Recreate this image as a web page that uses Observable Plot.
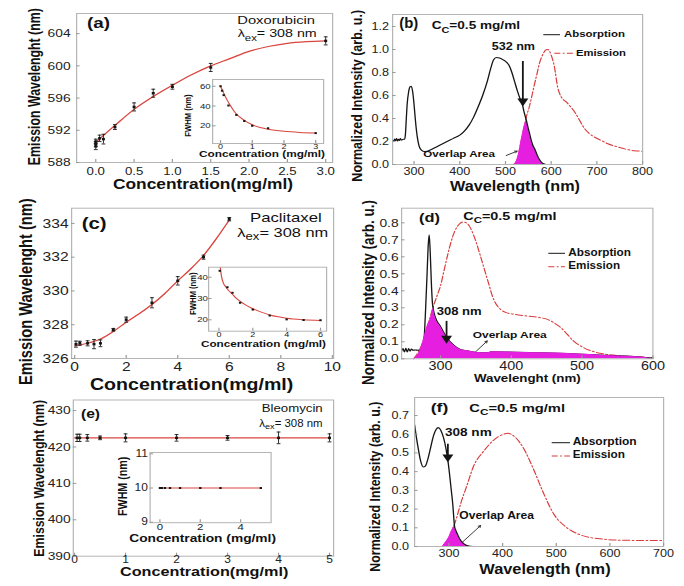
<!DOCTYPE html>
<html><head><meta charset="utf-8">
<script src="https://cdn.jsdelivr.net/npm/d3@7"></script>
<script src="https://cdn.jsdelivr.net/npm/@observablehq/plot@0.6"></script>
<style>
body{margin:0;background:#fff;}
#fig{position:relative;width:570px;height:586px;transform:scale(1.2,1);transform-origin:0 0;}
#fig svg{position:absolute;left:0;top:0;}
</style></head><body><div id="fig"></div>
<script>
// ---------- DATA ----------
// (a) Doxorubicin
const aConc = [0, 0, 0, 0.05, 0.1, 0.25, 0.5, 0.75, 1.0, 1.5, 3.0];
const aWave = [590.0, 590.3, 590.6, 591.0, 590.9, 592.4, 594.9, 596.6, 597.4, 599.8, 603.1];
const aErr  = [0.4, 0.3, 0.3, 0.4, 0.6, 0.3, 0.5, 0.5, 0.3, 0.5, 0.5];
const aFitConc = [0, 0.25, 0.5, 0.75, 1, 1.25, 1.5, 1.75, 2, 2.25, 2.5, 2.75, 3];
const aFitWave = [590.5, 592.6, 594.6, 596.2, 597.6, 598.9, 600.0, 600.9, 601.8, 602.4, 602.8, 603.0, 603.1];
const aInsetConc = [0, 0.05, 0.1, 0.25, 0.5, 0.75, 1, 1.5, 3];
const aInsetFwhm = [60, 55.5, 51, 40.5, 31, 24.8, 20, 17.5, 12.6];
const aInsetFitConc = [0, 0.1, 0.2, 0.3, 0.4, 0.5, 0.75, 1, 1.25, 1.5, 2, 2.5, 3];
const aInsetFitFwhm = [60, 53, 46.5, 41, 36, 32, 25.5, 21, 18.3, 16.5, 14.4, 13.3, 12.8];
// (c) Paclitaxel
const cConc = [0.05, 0.2, 0.5, 0.75, 1, 1.5, 2, 3, 4, 5, 6];
const cWave = [326.85, 326.9, 326.9, 326.85, 326.9, 327.7, 328.3, 329.3, 330.6, 332.0, 334.25];
const cErr  = [0.18, 0.12, 0.15, 0.27, 0.2, 0.08, 0.15, 0.3, 0.25, 0.12, 0.1];
const cFitConc = [0, 0.5, 1, 1.5, 2, 2.5, 3, 3.5, 4, 4.5, 5, 5.5, 6];
const cFitWave = [326.75, 326.9, 327.15, 327.6, 328.15, 328.65, 329.2, 329.85, 330.6, 331.3, 332.1, 333.1, 334.2];
const cInsetConc = [0.05, 0.5, 0.8, 1.25, 2, 3, 4, 5, 6];
const cInsetFwhm = [43, 35.3, 32.7, 28, 24.8, 22, 20.2, 19.9, 19.8];
const cInsetFitConc = [0.08, 0.15, 0.25, 0.4, 0.6, 0.8, 1, 1.25, 1.5, 2, 2.5, 3, 3.5, 4, 5, 6];
const cInsetFitFwhm = [44.7, 40.5, 37.5, 35.5, 33.5, 32, 30.3, 28.7, 27.4, 25.2, 23.6, 22.3, 21.4, 20.7, 20, 19.7];
// (e) Bleomycin
const eConc = [0.05, 0.1, 0.25, 0.5, 1, 2, 3, 4, 5];
const eWave = [422.5, 422.5, 422.5, 422.5, 422.5, 422.5, 422.5, 422.5, 422.5];
const eErr  = [1.0, 1.0, 0.9, 0.5, 1.1, 0.9, 0.65, 1.6, 1.1];
const eFitConc = [0, 5];
const eFitWave = [422.5, 422.5];
const eInsetConc = [0, 0.05, 0.1, 0.25, 0.5, 1, 2, 3, 5];
const eInsetFwhm = [10, 10, 10, 10, 10, 10, 10, 10, 10];
const eInsetFitConc = [0, 5];
const eInsetFitFwhm = [10, 10];

// (b) spectra [wavelength nm, normalized intensity]
const bAbsorption = [[253,0.215],[256,0.205],[258,0.222],[260,0.208],[262,0.225],[264,0.205],[266,0.22],[268,0.21],[270,0.225],[272,0.212],[275,0.218],[279,0.22],[281,0.26],[283,0.4],[285,0.53],[288,0.63],[291,0.675],[294,0.68],[297,0.63],[300,0.52],[303,0.38],[307,0.24],[311,0.16],[316,0.125],[323,0.113],[330,0.118],[340,0.135],[355,0.165],[370,0.195],[385,0.225],[400,0.255],[410,0.29],[420,0.34],[430,0.41],[440,0.5],[450,0.6],[460,0.72],[468,0.84],[474,0.91],[480,0.93],[487,0.925],[495,0.91],[502,0.89],[508,0.86],[514,0.8],[520,0.72],[526,0.64],[532,0.57],[537,0.52],[541,0.45],[546,0.38],[550,0.31],[553,0.265],[557,0.2],[560,0.165],[564,0.135],[568,0.095],[572,0.06],[575,0.04],[579,0.018],[583,0.006],[588,0]];
const bEmission = [[518,0],[523,0.02],[528,0.08],[534,0.2],[541,0.33],[546,0.42],[552,0.5],[558,0.6],[563,0.69],[569,0.79],[574,0.875],[582,0.96],[589,0.997],[593,1.0],[600,0.95],[607,0.85],[614,0.675],[622,0.587],[633,0.544],[643,0.5],[654,0.44],[662,0.385],[673,0.312],[683,0.27],[694,0.24],[709,0.21],[724,0.18],[745,0.153],[767,0.13],[782,0.119],[800,0.116]];
const bOverlap = [[519,0],[523,0.02],[528,0.08],[534,0.2],[541,0.33],[544,0.37],[546,0.38],[550,0.31],[553,0.265],[557,0.2],[560,0.165],[564,0.135],[568,0.095],[572,0.06],[575,0.04],[579,0.018],[583,0.006],[588,0]];
// (d) spectra
const dAbsorption = [[245,0.045],[247,0.06],[249,0.04],[251,0.062],[253,0.04],[255,0.06],[257,0.045],[259,0.058],[261,0.05],[264,0.052],[268,0.05],[272,0.055],[275,0.07],[277,0.13],[279,0.3],[281,0.5],[282.5,0.66],[284,0.73],[285.5,0.62],[287,0.45],[288.5,0.33],[289.6,0.295],[293,0.24],[300,0.19],[309,0.124],[319,0.079],[328,0.055],[338,0.047],[347,0.04],[357,0.035],[368,0.035],[371,0.041],[394,0.04],[441,0.035],[488,0.03],[535,0.02],[583,0.01],[600,0.004]];
const dEmission = [[262,0],[270,0.05],[275,0.1],[280,0.17],[285,0.24],[290,0.31],[295,0.37],[300,0.43],[305,0.52],[310,0.61],[315,0.69],[320,0.75],[326,0.79],[332,0.805],[338,0.795],[347,0.725],[356,0.61],[366,0.47],[375,0.35],[385,0.29],[394,0.27],[404,0.262],[422,0.252],[441,0.242],[451,0.232],[460,0.213],[470,0.183],[479,0.144],[488,0.104],[498,0.075],[517,0.041],[535,0.026],[559,0.016],[583,0.01],[600,0.006]];
const dOverlap = [[262,0],[271.7,0.055],[276,0.114],[281,0.19],[286,0.24],[289.6,0.295],[293,0.24],[300,0.19],[309,0.124],[319,0.079],[328,0.055],[338,0.047],[347,0.04],[357,0.035],[368,0.035],[371,0.041],[394,0.04],[441,0.035],[488,0.03],[535,0.02],[583,0.01],[600,0]];
// (f) spectra
const fAbsorption = [[236,0.65],[239,0.59],[243,0.52],[247,0.46],[252,0.425],[256,0.43],[261,0.47],[266,0.53],[271,0.59],[276,0.625],[280,0.635],[285,0.62],[290,0.58],[294,0.53],[298,0.46],[301,0.39],[304,0.31],[307,0.23],[310.5,0.107],[313,0.085],[316,0.065],[322,0.032],[328,0.014],[337,0.002],[345,0]];
const fEmission = [[288,0],[294,0.023],[300,0.05],[306,0.09],[310.5,0.12],[316,0.17],[322,0.23],[334,0.33],[346,0.43],[365,0.51],[384,0.57],[402,0.6],[410,0.605],[421,0.59],[440,0.52],[458,0.41],[477,0.28],[495,0.175],[520,0.1],[545,0.062],[582,0.041],[626,0.033],[700,0.032]];
const fOverlap = [[288,0],[294,0.023],[300,0.05],[306,0.09],[310.5,0.107],[313,0.085],[316,0.065],[322,0.032],[328,0.014],[337,0.002],[340,0]];

// ---------- STYLE / LAYOUT ----------
const SX = 1.2, W = 570, H = 586;
const FONT = "'Liberation Sans', Arial, Helvetica, sans-serif";
const RED = "#d93b3b", FIT = "#d9463f", MAG = "#e61ee0", INK = "#151515";
const X = d => d[0], Y = d => d[1];
const capSym = {draw(ctx, size) { const r = Math.sqrt(size / Math.PI); ctx.moveTo(-r, 0); ctx.lineTo(r, 0); }};
const zip = (a, b, c) => a.map((v, i) => ({c: v, w: b[i], e: c ? c[i] : 0}));
const pairs = (a, b) => a.map((v, i) => [v, b[i]]);

function scatter(conc, wave, err, fitC, fitW, r = 1.4) {
  const pts = zip(conc, wave, err);
  return [
    Plot.line(pairs(fitC, fitW), {x: X, y: Y, stroke: FIT, strokeWidth: 1.2, curve: "monotone-x"}),
    Plot.ruleX(pts, {x: "c", y1: d => d.w - d.e, y2: d => d.w + d.e, stroke: INK, strokeWidth: 0.8}),
    Plot.dot(pts, {x: "c", y: d => d.w + d.e, symbol: capSym, r: 1.6, stroke: INK, strokeWidth: 0.8}),
    Plot.dot(pts, {x: "c", y: d => d.w - d.e, symbol: capSym, r: 1.6, stroke: INK, strokeWidth: 0.8}),
    Plot.dot(pts, {x: "c", y: "w", symbol: "square", r, fill: INK})
  ];
}
function inset(conc, fw, fitC, fitW) {
  const pts = zip(conc, fw);
  return [
    Plot.line(pairs(fitC, fitW), {x: X, y: Y, stroke: FIT, strokeWidth: 1, curve: "monotone-x"}),
    Plot.dot(pts, {x: "c", y: "w", symbol: "square", r: 1.1, fill: INK})
  ];
}
function arrowHead(a) {
  return [
    Plot.link([a], {x1: d => d.x, y1: d => d.y1, x2: d => d.x, y2: d => d.y2, stroke: INK, strokeWidth: 1.5}),
    Plot.dot([a], {x: d => d.x, y: d => d.y2, symbol: "triangle", r: 3.4, fill: INK, rotate: 180})
  ];
}
function smallArrow(a) {
  return Plot.arrow([a], {x1: d => d.x1, y1: d => d.y1, x2: d => d.x2, y2: d => d.y2, stroke: "#222", strokeWidth: 0.8, headLength: 4});
}
function spectrum(abs, em, ov, fillOnTop) {
  const e = Plot.line(em, {x: X, y: Y, stroke: RED, strokeWidth: 1, strokeDasharray: "6,2,1.5,2", curve: "monotone-x"});
  const ar = Plot.areaY(ov, {x: X, y: Y, fill: MAG, curve: "monotone-x"});
  const ab = Plot.line(abs, {x: X, y: Y, stroke: INK, strokeWidth: 1.1, curve: "monotone-x"});
  return fillOnTop ? [e, ab, ar] : [e, ar, ab];
}

// annotation positions (data coordinates)
const bArrow = {x: 538, y1: 0.9, y2: 0.55};
const dArrow = {x: 308.5, y1: 0.223, y2: 0.12};
const fArrow = {x: 298, y1: 0.549, y2: 0.478};
const bOvArrow = {x1: 501.5, y1: 0.078, x2: 525.5, y2: 0.116};
const dOvArrow = {x1: 349.5, y1: 0.041, x2: 366, y2: 0.105};
const fOvArrow = {x1: 325, y1: 0.023, x2: 359, y2: 0.112};

const panels = [
  {f: [76, 13, 332, 162], xd: [-0.25, 3.09], yd: [588, 606.5], xt: [0, 0.5, 1, 1.5, 2, 2.5, 3], xf: ".1f", yt: [588, 592, 596, 600, 604], xp: 7.5, yp: 8, xs: 11, ys: 11.5,
   marks: scatter(aConc, aWave, aErr, aFitConc, aFitWave)},
  {f: [212, 79, 323, 143], xd: [-0.25, 3.25], yd: [2.1, 66.8], xt: [0, 1, 2, 3], yt: [20, 40, 60], xp: 3.4, yp: 4.7, xs: 7.5, ys: 8, bg: true,
   marks: inset(aInsetConc, aInsetFwhm, aInsetFitConc, aInsetFitFwhm)},
  {f: [392, 14, 642, 164], xd: [253, 800], yd: [0, 1.304], xt: [300, 400, 500, 600, 700, 800], yt: [0, 0.2, 0.4, 0.6, 0.8, 1.0, 1.2], yf: ".1f", xp: 6.5, yp: 6, xs: 10.5, ys: 10.5,
   marks: [...spectrum(bAbsorption, bEmission, bOverlap, false), ...arrowHead(bArrow), smallArrow(bOvArrow)]},
  {f: [71, 207.7, 333, 358], xd: [-0.12, 10.05], yd: [326, 334.9], xt: [0, 2, 4, 6, 8, 10], yt: [326, 328, 330, 332, 334], xp: 6, yp: 5.5, xs: 13, ys: 13,
   marks: scatter(cConc, cWave, cErr, cFitConc, cFitWave)},
  {f: [208, 266.7, 326, 330.7], xd: [-0.61, 6.36], yd: [14.65, 44.7], xt: [0, 2, 4, 6], yt: [20, 30, 40], xp: 3.4, yp: 3.6, xs: 7.5, ys: 8, bg: true,
   marks: inset(cInsetConc, cInsetFwhm, cInsetFitConc, cInsetFitFwhm)},
  {f: [401, 207.7, 652.3, 358.3], xd: [245, 600], yd: [0, 0.886], xt: [300, 400, 500, 600], yt: [0, 0.1, 0.2, 0.3, 0.4, 0.5, 0.6, 0.7, 0.8], yf: ".1f", xp: 5.5, yp: 5.5, xs: 12, ys: 11.5,
   marks: [...spectrum(dAbsorption, dEmission, dOverlap, true), ...arrowHead(dArrow), smallArrow(dOvArrow)]},
  {f: [72.7, 399.5, 333, 555.7], xd: [-0.025, 5.08], yd: [390, 432.9], xt: [0, 1, 2, 3, 4, 5], yt: [390, 400, 410, 420, 430], xp: 2.5, yp: 5.2, xs: 10, ys: 11.5,
   marks: scatter(eConc, eWave, eErr, eFitConc, eFitWave)},
  {f: [149.5, 452, 270.5, 522.2], xd: [-0.486, 5.51], yd: [8.985, 11.04], xt: [0, 2, 4], yt: [9, 10, 11], xp: 4, yp: 4.9, xs: 9.5, ys: 10, bg: true,
   marks: inset(eInsetConc, eInsetFwhm, eInsetFitConc, eInsetFitFwhm)},
  {f: [414, 397, 663, 546], xd: [236, 700], yd: [0, 0.796], xt: [300, 400, 500, 600, 700], yt: [0, 0.1, 0.2, 0.3, 0.4, 0.5, 0.6, 0.7], yf: ".1f", xp: 6.3, yp: 7.75, xs: 10.5, ys: 10.5,
   marks: [...spectrum(fAbsorption, fEmission, fOverlap, false), ...arrowHead(fArrow), smallArrow(fOvArrow)]}
];

const fig = document.getElementById("fig");
for (const p of panels) {
  const svg = Plot.plot({
    width: W, height: H,
    marginLeft: p.f[0] / SX, marginRight: W - p.f[2] / SX, marginTop: p.f[1], marginBottom: H - p.f[3],
    x: {domain: p.xd, label: null},
    y: {domain: p.yd, label: null},
    style: `position:absolute;left:0;top:0;background:transparent;overflow:visible;font-family:${FONT};color:#222;max-width:none;`,
    marks: [
      ...(p.bg ? [Plot.frame({fill: "white"})] : []),
      ...p.marks,
      Plot.frame({stroke: "#b5b5b5", strokeWidth: 1}),
      Plot.axisX({ticks: p.xt, tickFormat: p.xf ? d3.format(p.xf) : d => String(d), tickSize: -3, tickPadding: p.xp, fontSize: p.xs, stroke: "#9a9a9a", label: null}),
      Plot.axisY({ticks: p.yt, tickFormat: p.yf ? d3.format(p.yf) : d => String(d), tickSize: -3, tickPadding: p.yp, fontSize: p.ys, stroke: "#9a9a9a", label: null})
    ]
  });
  fig.appendChild(svg);
}

// ---------- TEXT OVERLAY (positions in reference px) ----------
const labels = [
  {t: "Emission Wavelenght (nm)", x: 39.5, y: 86.7, len: 157, s: 13, b: 1, r: 1},
  {t: "Concentration(mg/ml)", x: 113, y: 189, len: 180, s: 14, b: 1},
  {t: "(a)", x: 87, y: 28.5, len: 23, s: 15, b: 1},
  {t: "Doxorubicin", x: 237.3, y: 24, len: 77.7, s: 11.5},
  {t: "λ_{ex}= 308 nm", x: 237.7, y: 37.3, len: 79, s: 11.5},
  {t: "FWHM (nm)", x: 191, y: 115.5, len: 42.3, s: 8, b: 1, r: 1},
  {t: "Concentration (mg/ml)", x: 199, y: 157, len: 126, s: 8.5, b: 1},

  {t: "Normalized Intensity (arb. u.)", x: 361.5, y: 95.8, len: 171.7, s: 12.5, b: 1, r: 1},
  {t: "Wavelength (nm)", x: 450, y: 191, len: 130, s: 14, b: 1},
  {t: "(b)", x: 399.3, y: 28, len: 19, s: 14, b: 1},
  {t: "C_{C}=0.5 mg/ml", x: 431.7, y: 29.3, len: 88.3, s: 11.5, b: 1},
  {t: "Absorption", x: 564, y: 37.3, len: 61, s: 9.5, b: 1},
  {t: "Emission", x: 576, y: 56, len: 50, s: 9.5, b: 1},
  {t: "532 nm", x: 491.7, y: 50, len: 43.3, s: 11, b: 1},
  {t: "Overlap Area", x: 423.3, y: 157.3, len: 71.7, s: 9.5, b: 1},

  {t: "Emission Wavelenght (nm)", x: 32, y: 291.7, len: 186.7, s: 15, b: 1, r: 1},
  {t: "Concentration(mg/ml)", x: 90, y: 390, len: 203.3, s: 16, b: 1},
  {t: "(c)", x: 81.7, y: 229, len: 25, s: 16, b: 1},
  {t: "Paclitaxel", x: 250, y: 221.7, len: 71.7, s: 12.5},
  {t: "λ_{ex}= 308 nm", x: 237.3, y: 236.7, len: 91, s: 12.5},
  {t: "FWHM (nm)", x: 195.5, y: 293.7, len: 42.7, s: 8, b: 1, r: 1},
  {t: "Concentration (mg/ml)", x: 201, y: 347.5, len: 125, s: 8.5, b: 1},

  {t: "Normalized Intensity (arb. u.)", x: 373.5, y: 292.5, len: 185, s: 13, b: 1, r: 1},
  {t: "Wavelenght (nm)", x: 474, y: 382.5, len: 106.7, s: 11, b: 1},
  {t: "(d)", x: 419, y: 221.7, len: 21, s: 13, b: 1},
  {t: "C_{C}=0.5 mg/ml", x: 463.3, y: 220, len: 93.3, s: 11.5, b: 1},
  {t: "Absorption", x: 568.3, y: 256, len: 62.7, s: 10, b: 1},
  {t: "Emission", x: 568.3, y: 269, len: 51.7, s: 10, b: 1},
  {t: "308 nm", x: 436.7, y: 315, len: 45, s: 11, b: 1},
  {t: "Overlap Area", x: 472.7, y: 337.7, len: 74, s: 9.5, b: 1},

  {t: "Emission Wavelenght (nm)", x: 43.5, y: 478.3, len: 156.7, s: 12.5, b: 1, r: 1},
  {t: "Concentration(mg/ml)", x: 120, y: 576.5, len: 168.3, s: 13, b: 1},
  {t: "(e)", x: 81, y: 418.3, len: 19, s: 13, b: 1},
  {t: "Bleomycin", x: 261.7, y: 412.3, len: 61, s: 10.5},
  {t: "λ_{ex}= 308 nm", x: 259.3, y: 426.7, len: 63.3, s: 10},
  {t: "FWHM (nm)", x: 127, y: 486.3, len: 59.3, s: 10.5, b: 1, r: 1},
  {t: "Concentration (mg/ml)", x: 129.3, y: 542, len: 146.7, s: 10.5, b: 1},

  {t: "Normalized Intensity (arb. u.)", x: 380, y: 486.7, len: 170, s: 12.5, b: 1, r: 1},
  {t: "Wavelength (nm)", x: 479.3, y: 574, len: 131.3, s: 14.5, b: 1},
  {t: "(f)", x: 430.7, y: 411.7, len: 17.6, s: 13, b: 1},
  {t: "C_{C}=0.5 mg/ml", x: 469.3, y: 411.7, len: 95.7, s: 11.5, b: 1},
  {t: "308 nm", x: 445, y: 436, len: 46.7, s: 11, b: 1},
  {t: "Absorption", x: 572.7, y: 445, len: 64, s: 10, b: 1},
  {t: "Emission", x: 572.7, y: 458.3, len: 52.3, s: 10, b: 1},
  {t: "Overlap Area", x: 459.3, y: 519.3, len: 74.7, s: 10, b: 1}
];
const legendLines = [
  {x1: 543.3, x2: 560, y: 34.7, em: 0}, {x1: 554.3, x2: 573.3, y: 53.3, em: 1},
  {x1: 548.3, x2: 565, y: 253.3, em: 0}, {x1: 548.3, x2: 565, y: 266.7, em: 1},
  {x1: 551.7, x2: 570, y: 442.7, em: 0}, {x1: 551.7, x2: 570, y: 456, em: 1}
];

const ov = d3.select(fig).append("svg").attr("width", W).attr("height", H)
  .style("position", "absolute").style("left", 0).style("top", 0).style("overflow", "visible");
for (const l of legendLines) {
  ov.append("line").attr("x1", l.x1 / SX).attr("x2", l.x2 / SX).attr("y1", l.y).attr("y2", l.y)
    .attr("stroke", l.em ? RED : INK).attr("stroke-width", 1)
    .attr("stroke-dasharray", l.em ? "5,2,1.5,2" : null);
}
for (const t of labels) {
  const el = ov.append("text").attr("font-family", FONT).attr("font-size", t.s)
    .attr("font-weight", t.b ? "bold" : "normal").attr("fill", "#111")
    .attr("lengthAdjust", "spacingAndGlyphs");
  if (t.r) {
    el.attr("transform", `translate(${t.x / SX},${t.y}) rotate(-90)`).attr("text-anchor", "middle").attr("textLength", t.len);
  } else {
    el.attr("x", t.x / SX).attr("y", t.y).attr("textLength", t.len / SX);
  }
  const parts = t.t.split(/(_\{[^}]*\})/);
  let sub = false;
  for (const p of parts) {
    if (!p) continue;
    const m = p.match(/^_\{(.*)\}$/);
    if (m) { el.append("tspan").attr("dy", 0.28 * t.s).attr("font-size", 0.8 * t.s).text(m[1]); sub = true; }
    else { const ts = el.append("tspan").text(p); if (sub) { ts.attr("dy", -0.28 * t.s); sub = false; } }
  }
}
</script></body></html>
